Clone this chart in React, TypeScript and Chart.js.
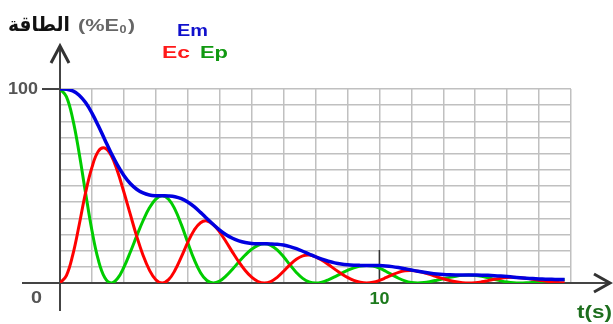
import React, { useEffect, useRef } from "react";
import { Chart, registerables } from "chart.js";

Chart.register(...registerables);

// time samples (s)
const times = [
  0, 0.2, 0.4, 0.6, 0.8, 1.0, 1.2, 1.4, 1.6, 1.8, 2.0, 2.2, 2.4, 2.6, 2.8, 3.0,
  3.2, 3.4, 3.6, 3.8, 4.0, 4.2, 4.4, 4.6, 4.8, 5.0, 5.2, 5.4, 5.6, 5.8, 6.0, 6.2,
  6.4, 6.6, 6.8, 7.0, 7.2, 7.4, 7.6, 7.8, 8.0, 8.2, 8.4, 8.6, 8.8, 9.0, 9.2, 9.4,
  9.6, 9.8, 10.0, 10.2, 10.4, 10.6, 10.8, 11.0, 11.2, 11.4, 11.6, 11.8, 12.0, 12.2, 12.4, 12.6,
  12.8, 13.0, 13.2, 13.4, 13.6, 13.8, 14.0, 14.2, 14.4, 14.6, 14.8, 15.0, 15.2, 15.4, 15.6, 15.8,
];

// mechanical energy Em (% of E0)
const emValues = [
  100, 99.87, 99.01, 96.81, 92.99, 87.6, 81.06, 73.99, 67.03, 60.73, 55.43, 51.29, 48.32, 46.41, 45.38, 44.99,
  44.93, 44.87, 44.49, 43.5, 41.78, 39.36, 36.42, 33.25, 30.12, 27.29, 24.91, 23.05, 21.71, 20.85, 20.39, 20.22,
  20.19, 20.16, 19.99, 19.55, 18.77, 17.69, 16.37, 14.94, 13.53, 12.26, 11.19, 10.36, 9.76, 9.37, 9.16, 9.08,
  9.07, 9.06, 8.98, 8.78, 8.44, 7.95, 7.35, 6.71, 6.08, 5.51, 5.03, 4.65, 4.38, 4.21, 4.12, 4.08,
  4.08, 4.07, 4.04, 3.95, 3.79, 3.57, 3.3, 3.02, 2.73, 2.48, 2.26, 2.09, 1.97, 1.89, 1.85, 1.83,
];

// kinetic energy Ec (% of E0)
const ecValues = [
  0, 3.8, 14.5, 29.88, 46.5, 59.6, 67.9, 69.6, 65.9, 57.6, 46.9, 35.46, 24.16, 14.32, 6.65, 1.71,
  0, 1.71, 6.52, 13.43, 20.89, 27.21, 31.09, 31.98, 30.12, 26.25, 21.26, 15.94, 10.86, 6.44, 2.99, 0.77,
  0, 0.77, 2.93, 6.03, 9.39, 12.23, 13.97, 14.37, 13.53, 11.79, 9.55, 7.16, 4.88, 2.89, 1.34, 0.35,
  0, 0.34, 1.32, 2.71, 4.22, 5.49, 6.28, 6.46, 6.08, 5.3, 4.29, 3.22, 2.19, 1.3, 0.6, 0.16,
  0, 0.15, 0.59, 1.22, 1.9, 2.47, 2.82, 2.9, 2.73, 2.38, 1.93, 1.45, 0.98, 0.58, 0.27, 0.07,
];

// potential energy Ep (% of E0)
const epValues = [
  100, 96.07, 84.51, 66.93, 46.49, 27.04, 11.87, 2.82, 0, 2.31, 8.12, 15.83, 24.16, 32.09, 38.73, 43.28,
  44.93, 43.16, 37.97, 30.07, 20.89, 12.15, 5.33, 1.27, 0, 1.04, 3.65, 7.11, 10.85, 14.41, 17.4, 19.45,
  20.19, 19.4, 17.06, 13.51, 9.39, 5.46, 2.4, 0.57, 0, 0.47, 1.64, 3.2, 4.88, 6.48, 7.82, 8.74,
  9.07, 8.72, 7.67, 6.07, 4.22, 2.45, 1.08, 0.26, 0, 0.21, 0.74, 1.44, 2.19, 2.91, 3.51, 3.93,
  4.08, 3.92, 3.44, 2.73, 1.9, 1.1, 0.48, 0.11, 0, 0.09, 0.33, 0.65, 0.98, 1.31, 1.58, 1.76,
];

const xMax = 16;
const yMax = 100;
const yStep = 100 / 12;

const toPts = (vals: number[]) => vals.map((v, i) => ({ x: times[i], y: v }));

// draws text stretched horizontally to a target width
function drawFitText(
  ctx: CanvasRenderingContext2D,
  text: string,
  x: number,
  y: number,
  font: string,
  color: string,
  width: number,
  align: "left" | "center" = "left"
) {
  ctx.save();
  ctx.font = font;
  ctx.fillStyle = color;
  ctx.textBaseline = "middle";
  ctx.textAlign = "left";
  const w = ctx.measureText(text).width;
  const sx = width / w;
  const left = align === "center" ? x - width / 2 : x;
  ctx.translate(left, y);
  ctx.scale(sx, 1);
  ctx.fillText(text, 0, 0);
  ctx.restore();
}

const axesPlugin = {
  id: "physAxes",
  beforeDatasetsDraw(chart: any) {
    const ctx = chart.ctx as CanvasRenderingContext2D;
    const xs = chart.scales.x;
    const ys = chart.scales.y;
    const x0 = xs.getPixelForValue(0);
    const y0 = ys.getPixelForValue(0);
    const y100 = ys.getPixelForValue(100);
    const x10 = xs.getPixelForValue(10);
    ctx.save();
    ctx.strokeStyle = "#444";
    ctx.lineWidth = 2;
    // y axis
    ctx.beginPath();
    ctx.moveTo(x0, 311);
    ctx.lineTo(x0, 46);
    ctx.stroke();
    // x axis
    ctx.beginPath();
    ctx.moveTo(22, y0);
    ctx.lineTo(610, y0);
    ctx.stroke();
    // tick at 100
    ctx.beginPath();
    ctx.moveTo(42, y100);
    ctx.lineTo(x0, y100);
    ctx.stroke();
    // tick at 10
    ctx.lineWidth = 1.5;
    ctx.strokeStyle = "#333";
    ctx.beginPath();
    ctx.moveTo(x10, 250);
    ctx.lineTo(x10, y0);
    ctx.stroke();
    // arrows
    ctx.strokeStyle = "#333";
    ctx.lineWidth = 3;
    ctx.lineJoin = "miter";
    ctx.beginPath();
    ctx.moveTo(x0 - 9, 63);
    ctx.lineTo(x0, 46);
    ctx.lineTo(x0 + 9, 63);
    ctx.stroke();
    ctx.beginPath();
    ctx.moveTo(594, y0 - 9);
    ctx.lineTo(610, y0);
    ctx.lineTo(594, y0 + 9);
    ctx.stroke();
    ctx.restore();
  },
  afterDraw(chart: any) {
    const ctx = chart.ctx as CanvasRenderingContext2D;
    const xs = chart.scales.x;
    const ys = chart.scales.y;
    const y100 = ys.getPixelForValue(100);
    const x10 = xs.getPixelForValue(10);
    const f = (s: number) => `bold ${s}px "Liberation Sans", Arial, sans-serif`;
    // y title
    drawFitText(ctx, "الطاقة", 8, 26, `bold 20px "DejaVu Sans", sans-serif`, "#111", 62);
    drawFitText(ctx, "(%E", 78, 26, f(17), "#666", 41);
    drawFitText(ctx, "0", 119.5, 30, f(11), "#666", 7);
    drawFitText(ctx, ")", 128, 26, f(17), "#666", 7);
    // legend
    drawFitText(ctx, "Em", 177, 31, f(17), "#1010cc", 31);
    drawFitText(ctx, "Ec", 162, 53, f(17), "#ff1a1a", 28);
    drawFitText(ctx, "Ep", 200, 53, f(17), "#119911", 28);
    // tick labels
    drawFitText(ctx, "100", 8, y100, f(17), "#555", 30);
    drawFitText(ctx, "0", 31, 298, f(17), "#555", 11);
    drawFitText(ctx, "10", x10, 299.5, f(17), "#1d7a1d", 20, "center");
    drawFitText(ctx, "t(s)", 577, 313, f(18), "#1d6e1d", 35);
  },
};

export default function App() {
  const ref = useRef<HTMLCanvasElement>(null);
  useEffect(() => {
    if (!ref.current) return;
    const chart = new Chart(ref.current, {
      type: "line",
      data: {
        datasets: [
          {
            label: "Em",
            data: toPts(emValues),
            borderColor: "#0000e0",
            borderWidth: 3.5,
            pointRadius: 0,
            tension: 0.4,
            order: 0,
          },
          {
            label: "Ec",
            data: toPts(ecValues),
            borderColor: "#ff0000",
            borderWidth: 3,
            pointRadius: 0,
            tension: 0.4,
            order: 1,
          },
          {
            label: "Ep",
            data: toPts(epValues),
            borderColor: "#00cc00",
            borderWidth: 3,
            pointRadius: 0,
            tension: 0.4,
            order: 2,
          },
        ],
      },
      options: {
        animation: false,
        responsive: false,
        layout: { padding: { left: 60, right: 42, top: 89, bottom: 41 } },
        plugins: { legend: { display: false }, tooltip: { enabled: false } },
        scales: {
          x: {
            type: "linear",
            min: 0,
            max: xMax,
            ticks: { display: false, stepSize: 1 },
            grid: { color: "#c0c0c0", lineWidth: 1.5, drawTicks: false },
            border: { display: false },
          },
          y: {
            type: "linear",
            min: 0,
            max: yMax,
            ticks: { display: false, stepSize: yStep },
            grid: { color: "#c0c0c0", lineWidth: 1.5, drawTicks: false },
            border: { display: false },
          },
        },
      },
      plugins: [axesPlugin],
    });
    return () => chart.destroy();
  }, []);
  return (
    <div style={{ position: "fixed", left: 0, top: 0, width: 613, height: 324, background: "#fff" }}>
      <canvas ref={ref} width={613} height={324} style={{ width: 613, height: 324 }} />
    </div>
  );
}
